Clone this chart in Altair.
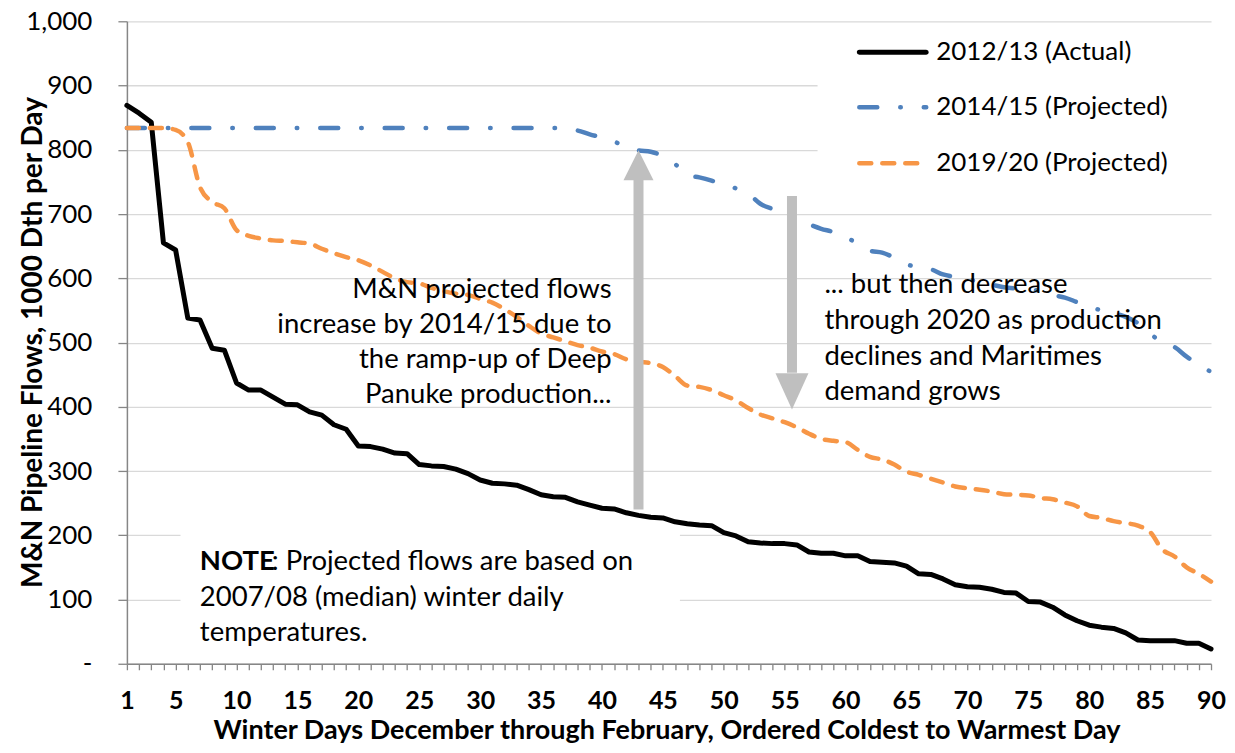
import altair as alt
import pandas as pd

# ---------------- data ----------------
days = list(range(1, 91))

actual_2012_13 = [869, 857, 843, 655, 644, 538, 535, 491, 488, 437,
                  426, 426, 415, 404, 403, 392, 387, 372, 365, 339,
                  338, 334, 328, 327, 310, 308, 307, 303, 296, 286,
                  281, 280, 278, 271, 263, 260, 259, 252, 247, 242,
                  241, 235, 231, 228, 227, 221, 218, 216, 215, 204,
                  199, 190, 188, 187, 187, 185, 174, 172, 172, 168,
                  168, 159, 158, 157, 152, 140, 139, 132, 123, 120,
                  119, 116, 111, 110, 97, 96, 88, 76, 67, 60,
                  57, 55, 48, 37, 36, 36, 36, 32, 32, 23]

proj_2014_15 = [834, 834, 834, 834, 834, 834, 834, 834, 834, 834,
                834, 834, 834, 834, 834, 834, 834, 834, 834, 834,
                834, 834, 834, 834, 834, 834, 834, 834, 834, 834,
                834, 834, 834, 834, 834, 834, 833, 830, 824, 819,
                813, 804, 799, 797, 790, 778, 760, 757, 752, 745,
                740, 732, 716, 708, 703, 692, 684, 677, 672, 664,
                654, 643, 640, 632, 622, 617, 614, 606, 602, 598,
                595, 590, 586, 584, 583, 580, 574, 570, 563, 556,
                550, 546, 540, 530, 514, 500, 493, 478, 466, 454]

proj_2019_20 = [834, 834, 834, 834, 831, 812, 742, 719, 709, 675,
                666, 662, 659, 658, 656, 654, 646, 639, 633, 628,
                620, 610, 600, 594, 592, 585, 580, 576, 574, 568,
                562, 552, 540, 526, 514, 508, 502, 496, 492, 486,
                482, 474, 470, 468, 462, 448, 433, 431, 426, 418,
                410, 398, 388, 382, 376, 368, 358, 350, 347, 345,
                333, 322, 318, 310, 299, 294, 288, 282, 276, 273,
                271, 268, 264, 263, 262, 258, 256, 251, 245, 230,
                227, 222, 219, 215, 205, 178, 167, 150, 140, 128]

series_names = ["2012/13 (Actual)", "2014/15 (Projected)", "2019/20 (Projected)"]
series_colors = ["#000000", "#4F81BD", "#F79646"]

y_ticks = [0, 100, 200, 300, 400, 500, 600, 700, 800, 900, 1000]

x_title = "Winter Days December through February, Ordered Coldest to Warmest Day"
y_title = "M&N Pipeline Flows, 1000 Dth per Day"

rampup_lines = ["M&N projected flows", "increase by 2014/15 due to",
                "the ramp-up of Deep", "Panuke production..."]
decline_lines = ["... but then decrease", "through 2020 as production",
                 "declines and Maritimes", "demand grows"]
note_bold = "NOTE"
note_first_rest = ": Projected flows are based on"
note_lines = ["2007/08 (median) winter daily", "temperatures."]

# ---------------- styling ----------------
FONT = "Lato"
GRID = "#D9D9D9"
AXIS = "#868686"
ARROW = "#BFBFBF"
W, H = 1085, 643

x_scale = alt.Scale(domain=[1, 90], nice=False, zero=False)
y_scale = alt.Scale(domain=[0, 1000], nice=False, zero=True)

x_axis = alt.Axis(
    values=days,
    labelExpr="(datum.value == 1 || datum.value % 5 == 0) ? datum.label : ''",
    grid=False, tickColor=AXIS, tickWidth=1.3, tickSize=6,
    domainColor=AXIS, domainWidth=1.5,
    labelFont=FONT, labelFontSize=25, labelFontWeight="bold", labelColor="black",
    labelPadding=19, labelFlush=False, labelOverlap=False,
    title=x_title, titleFont=FONT, titleFontSize=27, titleFontWeight="bold",
    titleColor="black", titleX=540, titleY=75, titleBaseline="alphabetic",
    titleAlign="center",
)
y_axis = alt.Axis(
    values=y_ticks,
    labelExpr="datum.value == 0 ? '-' : format(datum.value, ',')",
    grid=True, gridColor=GRID, gridWidth=1.3,
    tickColor=AXIS, tickWidth=1.3, tickSize=9,
    domainColor=AXIS, domainWidth=1.5,
    labelFont=FONT, labelFontSize=26, labelColor="black", labelPadding=26,
    title=y_title, titleFont=FONT, titleFontSize=28, titleFontWeight="bold",
    titleColor="black", titleX=-85, titleY=321, titleAngle=270,
    titleBaseline="alphabetic", titleAlign="center",
)


def X(field):
    return alt.X(field, type="quantitative", scale=x_scale, axis=x_axis)


def Y(field):
    return alt.Y(field, type="quantitative", scale=y_scale, axis=y_axis)


# ---------------- tables ----------------
lines_df = pd.DataFrame({
    "day": days * 3,
    "flow": actual_2012_13 + proj_2014_15 + proj_2019_20,
    "series": [series_names[0]] * 90 + [series_names[1]] * 90 + [series_names[2]] * 90,
})

# white backgrounds of the legend and note text boxes (they hide the gridlines)
boxes_df = pd.DataFrame({
    "x0": [57.7, 5.4], "x1": [91.0, 46.4],
    "y0": [742, 5], "y1": [990, 216],
})

shafts_df = pd.DataFrame({"x": [43.0, 55.6], "y0": [240, 728], "y1": [753, 453]})
heads_df = pd.DataFrame({"x": [43.0, 55.6], "y": [776, 424], "dir": ["up", "down"]})

ramp_df = pd.DataFrame({"x": [40.79] * 4, "y": [581.6, 527.2, 472.8, 418.4], "t": rampup_lines})
decl_df = pd.DataFrame({"x": [58.26] * 4, "y": [589.4, 533.4, 477.4, 423.0], "t": decline_lines})
note_b_df = pd.DataFrame({"x": [6.99], "y": [158.6], "t": [note_bold]})
note_r_df = pd.DataFrame({"x": [6.99], "y": [158.6], "t": [note_first_rest]})
note_df = pd.DataFrame({"x": [6.99] * 2, "y": [102.6, 48.2], "t": note_lines})

# ---------------- layers ----------------
boxes = alt.Chart(boxes_df).mark_rect(color="white", opacity=1).encode(
    x=X("x0"), x2="x1", y=Y("y0"), y2="y1")

black = alt.Chart(lines_df).transform_filter(
    alt.datum.series == series_names[0]
).mark_line(color=series_colors[0], strokeWidth=5, strokeJoin="round", strokeCap="round").encode(
    x=X("day"), y=Y("flow"))

blue = alt.Chart(lines_df).transform_filter(
    alt.datum.series == series_names[1]
).mark_line(color=series_colors[1], strokeWidth=4.5, strokeCap="round", strokeJoin="round",
            strokeDash=[18, 23, 0.5, 23], interpolate="monotone").encode(
    x=X("day"), y=Y("flow"))

orange = alt.Chart(lines_df).transform_filter(
    alt.datum.series == series_names[2]
).mark_line(color=series_colors[2], strokeWidth=4.5, strokeCap="round", strokeJoin="round",
            strokeDash=[12, 11], interpolate="monotone").encode(
    x=X("day"), y=Y("flow"))

shafts = alt.Chart(shafts_df).mark_rule(color=ARROW, strokeWidth=10).encode(
    x=X("x"), y=Y("y0"), y2="y1")

head_up = alt.Chart(heads_df).transform_filter(alt.datum.dir == "up").mark_point(
    shape="M-1,1L1,1L0,-1Z", size=900, filled=True, color=ARROW, opacity=1, strokeWidth=0
).encode(x=X("x"), y=Y("y"))
head_down = alt.Chart(heads_df).transform_filter(alt.datum.dir == "down").mark_point(
    shape="M-1,-1.1L1,-1.1L0,1.1Z", size=1089, filled=True, color=ARROW, opacity=1, strokeWidth=0
).encode(x=X("x"), y=Y("y"))

txt_kw = dict(font=FONT, fontSize=27.5, color="black", baseline="middle")
ramp_txt = alt.Chart(ramp_df).mark_text(align="right", **txt_kw).encode(
    x=X("x"), y=Y("y"), text="t:N")
decl_txt = alt.Chart(decl_df).mark_text(align="left", **txt_kw).encode(
    x=X("x"), y=Y("y"), text="t:N")
note_b_txt = alt.Chart(note_b_df).mark_text(align="left", fontWeight="bold", **txt_kw).encode(
    x=X("x"), y=Y("y"), text="t:N")
note_r_txt = alt.Chart(note_r_df).mark_text(align="left", dx=72, **txt_kw).encode(
    x=X("x"), y=Y("y"), text="t:N")
note_txt = alt.Chart(note_df).mark_text(align="left", **txt_kw).encode(
    x=X("x"), y=Y("y"), text="t:N")

# ---------------- hand-made legend ----------------
leg_rows = [31, 86, 142]
leg_dash = [[1, 0], [18, 23, 0.5, 23], [12, 11]]
leg_layers = []
for i, name in enumerate(series_names):
    d = pd.DataFrame({"label": [name]})
    leg_layers.append(
        alt.Chart(d).mark_rule(color=series_colors[i], strokeWidth=5 if i == 0 else 4.5,
                               strokeCap="round", strokeDash=leg_dash[i]).encode(
            x=alt.value(733), x2=alt.value(800), y=alt.value(leg_rows[i]))
    )
    leg_layers.append(
        alt.Chart(d).mark_text(align="left", baseline="middle", font=FONT, fontSize=26,
                               color="black").encode(
            x=alt.value(810), y=alt.value(leg_rows[i]), text="label:N")
    )

chart = alt.layer(
    boxes, black, blue, orange, shafts, head_up, head_down,
    ramp_txt, decl_txt, note_b_txt, note_r_txt, note_txt, *leg_layers
).properties(
    width=W, height=H,
    padding={"left": 119, "top": 13, "right": 16, "bottom": 81},
    autosize=alt.AutoSizeParams(type="none"),
    background="white",
).configure_view(stroke=None)

chart.save("out.html", embed_options={"renderer": "svg", "actions": False})
